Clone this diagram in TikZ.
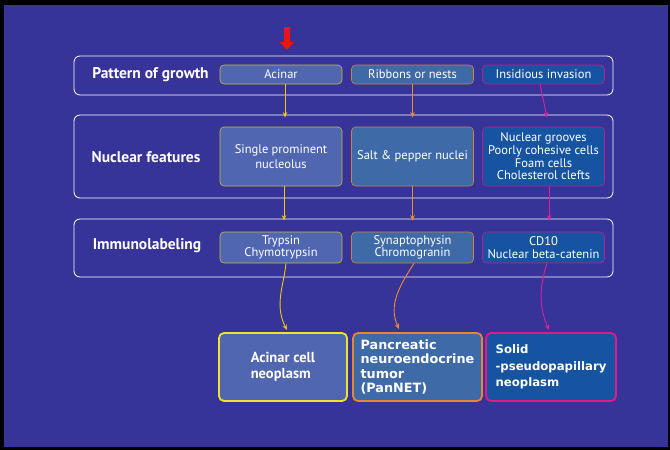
\documentclass[tikz,border=0pt]{standalone}
\usepackage{fontspec}
\setmainfont{PT Sans}
\newfontfamily\finalfont{DejaVu Sans}
\usetikzlibrary{arrows.meta}
\definecolor{bg}{RGB}{54,51,153}
\definecolor{fillA}{RGB}{80,102,176}
\definecolor{fillB}{RGB}{62,106,168}
\definecolor{fillC}{RGB}{22,84,162}
\definecolor{lineA}{RGB}{200,190,60}
\definecolor{lineB}{RGB}{210,130,60}
\definecolor{lineC}{RGB}{190,30,140}
\definecolor{edgeA}{RGB}{240,228,40}
\definecolor{edgeB}{RGB}{232,135,50}
\definecolor{edgeC}{RGB}{225,25,140}
\definecolor{arrA}{RGB}{240,200,10}
\definecolor{arrB}{RGB}{240,140,40}
\definecolor{arrC}{RGB}{228,30,155}
\definecolor{redarrow}{RGB}{235,20,25}
\tikzset{
  rowframe/.style={draw=white, rounded corners=6pt, line width=0.8pt, inner sep=0pt, minimum width=539pt},
  rowlabel/.style={text=white, font=\fontsize{15.5}{17}\selectfont\bfseries, inner sep=0pt},
  smallbox/.style={rounded corners=4pt, line width=0.6pt, minimum width=122pt, inner sep=0pt, text=white, align=center, font=\fontsize{12.5}{13.5}\selectfont},
  bigbox/.style={rounded corners=5pt, line width=1.8pt, minimum width=128pt, minimum height=68pt, inner sep=0pt, text=white, align=left},
  conn/.style={line width=0.9pt, -{Stealth[length=5.5pt,width=4.5pt]}},
}
\begin{document}
\begin{tikzpicture}[x=1pt,y=-1pt]
\useasboundingbox (0,0) rectangle (670,450);
\fill[black] (0,0) rectangle (670,450);
\fill[bg] (4,5) rectangle (668,447);

% red arrow
\fill[redarrow] (284,27) -- (290,27) -- (290,42) -- (294,42) -- (287,50) -- (280,42) -- (284,42) -- cycle;

% row frames
\node[rowframe, minimum height=39pt] (r1) at (343.5,75.5) {};
\node[rowframe, minimum height=83pt] (r2) at (343.5,156.5) {};
\node[rowframe, minimum height=58pt] (r3) at (343.5,248) {};

\node[rowlabel] (l1) at (150.5,74.5) {Pattern of growth};
\node[rowlabel] (l2) at (146,157) {Nuclear features};
\node[rowlabel] (l3) at (147,246) {Immunolabeling};

% row 1
\node[smallbox, fill=fillA, draw=lineA, minimum height=19pt] (a1) at (281,74.5) {Acinar};
\node[smallbox, fill=fillB, draw=lineB, minimum height=19pt] (b1) at (412.5,74.5) {Ribbons or nests};
\node[smallbox, fill=fillC, draw=lineC, minimum height=19pt] (c1) at (543.5,74.5) {Insidious invasion};

% row 2
\node[smallbox, fill=fillA, draw=lineA, minimum height=59pt, font=\fontsize{12.5}{14.5}\selectfont] (a2) at (281,156.5) {Single prominent\\nucleolus};
\node[smallbox, fill=fillB, draw=lineB, minimum height=59pt] (b2) at (412.5,156.5) {Salt \& pepper nuclei};
\node[smallbox, fill=fillC, draw=lineC, minimum height=59pt, font=\fontsize{12.5}{12.7}\selectfont] (c2) at (543.5,156.5) {Nuclear grooves\\Poorly cohesive cells\\Foam cells\\Cholesterol clefts};

% row 3
\node[smallbox, fill=fillA, draw=lineA, minimum height=31pt, font=\fontsize{12.5}{12.5}\selectfont] (a3) at (281,247.5) {Trypsin\\Chymotrypsin};
\node[smallbox, fill=fillB, draw=lineB, minimum height=31pt, font=\fontsize{12.5}{12.5}\selectfont] (b3) at (412.5,247.5) {Synaptophysin\\Chromogranin};
\node[smallbox, fill=fillC, draw=lineC, minimum height=31pt, font=\fontsize{12.5}{12.5}\selectfont] (c3) at (543.5,247.5) {CD10\\Nuclear beta-catenin};

% final boxes
\node[bigbox, fill=fillA, draw=edgeA, font=\bfseries\fontsize{14.5}{16.5}\selectfont] (fa) at (283,367) {Acinar cell\\neoplasm};
\node[bigbox, fill=fillB, draw=edgeB, minimum width=129pt, font=\finalfont\bfseries\fontsize{12.8}{14.2}\selectfont] (fb) at (417.5,367) {Pancreatic\\neuroendocrine\\tumor\\(PanNET)};
\node[bigbox, fill=fillC, draw=edgeC, minimum width=130pt, font=\finalfont\bfseries\fontsize{11.7}{16.5}\selectfont] (fc) at (551,367) {Solid\\-pseudopapillary\\neoplasm};

% connectors row1 -> row2
\draw[conn, arrA] ([xshift=4pt]a1.south) -- ([xshift=4pt,yshift=-3pt]a1.south |- r2.north);
\draw[conn, arrB] (b1.south) -- ([yshift=-3pt]b1.south |- r2.north);
\draw[conn, arrC] ([xshift=-3.5pt]c1.south) -- ([xshift=3.5pt,yshift=-3pt]c1.south |- r2.north);

% connectors row2 -> row3
\draw[conn, arrA] ([xshift=3pt]a2.south) -- ([xshift=3pt,yshift=-2pt]a2.south |- r3.north);
\draw[conn, arrB] (b2.south) -- ([yshift=-2pt]b2.south |- r3.north);
\draw[conn, arrC] ([xshift=5.5pt]c2.south) -- ([xshift=5.5pt,yshift=-2pt]c2.south |- r3.north);

% connectors row3 -> final
\coordinate (ea) at (287,330);
\coordinate (eb) at (399,329);
\coordinate (ec) at (549,330);
\draw[conn, arrA] ([xshift=5pt]a3.south) .. controls (284,285) and (274,305) .. (ea);
\draw[conn, arrB] ([xshift=1.5pt]b3.south) .. controls (400,285) and (388,305) .. (eb);
\draw[conn, arrC] ([xshift=3.5pt]c3.south) .. controls (540,285) and (538,305) .. (ec);
\end{tikzpicture}
\end{document}
